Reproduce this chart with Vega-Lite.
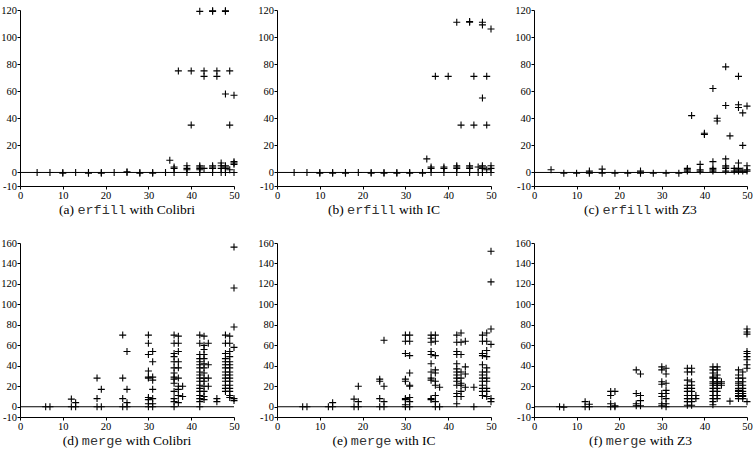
{
"$schema": "https://vega.github.io/schema/vega-lite/v6.json",
"background": "white",
"padding": {"left": 0, "top": 4, "right": 0, "bottom": 0},
"config": {
  "font": "Liberation Serif",
  "view": {"stroke": null},
  "axis": {"grid": false, "title": null, "domainColor": "black", "tickColor": "black", "labelColor": "black", "labelFont": "Liberation Serif", "labelFontSize": 10.5, "tickSize": 3, "labelPadding": 1, "domainWidth": 1, "tickWidth": 1, "labelOverlap": false, "labelSeparation": -14, "labelFlush": false, "labelBound": false, "tickCount": 30, "labelExpr": "'' + datum.value"},
  "axisY": {"labelPadding": 0.5},
  "scale": {"nice": false, "zero": false},
  "text": {"font": "Liberation Serif", "fontSize": 13.5, "color": "black", "baseline": "middle"},
  "point": {"shape": "M-1,0H1M0,-1V1", "filled": false, "stroke": "black", "strokeWidth": 1.1, "size": 49, "opacity": 1}
},
"datasets": {
"one": [{"k": 1}],
"a": [{"x":4,"y":0},{"x":7,"y":0},{"x":10,"y":0},{"x":10,"y":-0.5},{"x":13,"y":0},{"x":16,"y":0},{"x":16,"y":-0.5},{"x":19,"y":0},{"x":19,"y":-0.5},{"x":22,"y":0},{"x":25,"y":0},{"x":25,"y":0.5},{"x":28,"y":0},{"x":28,"y":-0.5},{"x":31,"y":0},{"x":31,"y":-0.5},{"x":34,"y":0},{"x":35,"y":9},{"x":36,"y":4},{"x":36,"y":3},{"x":36,"y":0},{"x":37,"y":75},{"x":39,"y":5},{"x":39,"y":3},{"x":39,"y":2},{"x":39,"y":0},{"x":40,"y":75},{"x":40,"y":35},{"x":42,"y":119},{"x":42,"y":5},{"x":42,"y":4},{"x":42,"y":3},{"x":42,"y":2},{"x":42,"y":0},{"x":43,"y":75},{"x":43,"y":71},{"x":43,"y":3},{"x":45,"y":119},{"x":45,"y":119.5},{"x":45,"y":5},{"x":45,"y":4},{"x":45,"y":3},{"x":45,"y":0},{"x":46,"y":75},{"x":46,"y":71},{"x":47,"y":7},{"x":47,"y":5},{"x":47,"y":3},{"x":47,"y":0},{"x":48,"y":119},{"x":48,"y":119.5},{"x":48,"y":58},{"x":48,"y":5},{"x":48,"y":4},{"x":48,"y":3},{"x":48,"y":0},{"x":49,"y":75},{"x":49,"y":35},{"x":49,"y":2},{"x":50,"y":57},{"x":50,"y":8},{"x":50,"y":7},{"x":50,"y":6},{"x":50,"y":0}],
"b": [{"x":4,"y":0},{"x":7,"y":0},{"x":10,"y":0},{"x":10,"y":-0.5},{"x":13,"y":0},{"x":13,"y":-0.5},{"x":16,"y":0},{"x":16,"y":-0.5},{"x":19,"y":0},{"x":22,"y":0},{"x":22,"y":-0.5},{"x":25,"y":0},{"x":25,"y":-0.5},{"x":28,"y":0},{"x":28,"y":-0.5},{"x":31,"y":0},{"x":31,"y":-0.5},{"x":34,"y":0},{"x":34,"y":-0.5},{"x":35,"y":10},{"x":36,"y":4},{"x":36,"y":3},{"x":36,"y":0},{"x":37,"y":71},{"x":39,"y":4},{"x":39,"y":3},{"x":39,"y":0},{"x":40,"y":71},{"x":42,"y":111},{"x":42,"y":5},{"x":42,"y":4},{"x":42,"y":3},{"x":42,"y":0},{"x":43,"y":35},{"x":45,"y":111},{"x":45,"y":111.5},{"x":45,"y":5},{"x":45,"y":4},{"x":45,"y":3},{"x":45,"y":0},{"x":46,"y":71},{"x":46,"y":35},{"x":47,"y":4},{"x":47,"y":0},{"x":48,"y":111},{"x":48,"y":109},{"x":48,"y":55},{"x":48,"y":5},{"x":48,"y":4},{"x":48,"y":3},{"x":48,"y":0},{"x":49,"y":71},{"x":49,"y":35},{"x":49,"y":2},{"x":50,"y":106},{"x":50,"y":5},{"x":50,"y":3},{"x":50,"y":0}],
"c": [{"x":4,"y":2},{"x":7,"y":-0.5},{"x":10,"y":-0.5},{"x":13,"y":1},{"x":13,"y":-0.5},{"x":16,"y":2.5},{"x":16,"y":-0.5},{"x":19,"y":-0.5},{"x":22,"y":-0.5},{"x":25,"y":1},{"x":25,"y":-0.5},{"x":28,"y":-0.5},{"x":31,"y":-0.5},{"x":34,"y":-0.5},{"x":36,"y":3},{"x":36,"y":2},{"x":36,"y":1},{"x":37,"y":42},{"x":39,"y":6},{"x":39,"y":2},{"x":39,"y":1},{"x":40,"y":29},{"x":40,"y":28},{"x":42,"y":62},{"x":42,"y":8},{"x":42,"y":3},{"x":42,"y":2},{"x":42,"y":1},{"x":43,"y":40},{"x":43,"y":38},{"x":45,"y":78},{"x":45,"y":49.5},{"x":45,"y":10},{"x":45,"y":5},{"x":45,"y":4},{"x":45,"y":3},{"x":45,"y":1},{"x":46,"y":27},{"x":47,"y":3},{"x":47,"y":1},{"x":48,"y":71},{"x":48,"y":50},{"x":48,"y":48},{"x":48,"y":7},{"x":48,"y":3},{"x":48,"y":2},{"x":48,"y":1},{"x":49,"y":44},{"x":49,"y":20},{"x":49,"y":1},{"x":50,"y":49},{"x":50,"y":5},{"x":50,"y":2},{"x":50,"y":1}],
"d": [{"x":6,"y":0},{"x":7,"y":0},{"x":12,"y":7.5},{"x":12,"y":0},{"x":13,"y":4},{"x":13,"y":0},{"x":18,"y":28},{"x":18,"y":8},{"x":18,"y":0},{"x":19,"y":17},{"x":19,"y":0},{"x":24,"y":70},{"x":24,"y":28},{"x":24,"y":8},{"x":24,"y":0},{"x":25,"y":54},{"x":25,"y":17},{"x":25,"y":4},{"x":25,"y":0},{"x":30,"y":70},{"x":30,"y":62},{"x":30,"y":51},{"x":30,"y":35},{"x":30,"y":29},{"x":30,"y":28},{"x":30,"y":9},{"x":30,"y":7},{"x":30,"y":3},{"x":30,"y":0},{"x":31,"y":54},{"x":31,"y":44},{"x":31,"y":29},{"x":31,"y":26},{"x":31,"y":17},{"x":31,"y":8},{"x":31,"y":3},{"x":31,"y":0},{"x":36,"y":70},{"x":36,"y":62},{"x":36,"y":52},{"x":36,"y":49},{"x":36,"y":44},{"x":36,"y":38},{"x":36,"y":33},{"x":36,"y":29},{"x":36,"y":27},{"x":36,"y":23},{"x":36,"y":15},{"x":36,"y":8},{"x":36,"y":5},{"x":36,"y":0},{"x":37,"y":69},{"x":37,"y":62},{"x":37,"y":54},{"x":37,"y":44},{"x":37,"y":38},{"x":37,"y":28},{"x":37,"y":20},{"x":37,"y":17},{"x":37,"y":11},{"x":37,"y":4},{"x":38,"y":20},{"x":38,"y":10},{"x":42,"y":70},{"x":42,"y":62},{"x":42,"y":51},{"x":42,"y":47},{"x":42,"y":44},{"x":42,"y":41},{"x":42,"y":38},{"x":42,"y":34},{"x":42,"y":31},{"x":42,"y":28},{"x":42,"y":25},{"x":42,"y":21},{"x":42,"y":18},{"x":42,"y":15},{"x":42,"y":11},{"x":42,"y":8},{"x":42,"y":5},{"x":42,"y":0},{"x":43,"y":69},{"x":43,"y":60},{"x":43,"y":56},{"x":43,"y":51},{"x":43,"y":47},{"x":43,"y":42},{"x":43,"y":38},{"x":43,"y":33},{"x":43,"y":28},{"x":43,"y":25},{"x":43,"y":20},{"x":43,"y":15},{"x":43,"y":10},{"x":43,"y":7},{"x":44,"y":62},{"x":44,"y":41},{"x":44,"y":28},{"x":44,"y":20},{"x":46,"y":8},{"x":46,"y":5},{"x":48,"y":70},{"x":48,"y":62},{"x":48,"y":52},{"x":48,"y":47},{"x":48,"y":44},{"x":48,"y":41},{"x":48,"y":38},{"x":48,"y":34},{"x":48,"y":31},{"x":48,"y":28},{"x":48,"y":25},{"x":48,"y":21},{"x":48,"y":18},{"x":48,"y":15},{"x":49,"y":69},{"x":49,"y":62},{"x":49,"y":54},{"x":49,"y":49},{"x":49,"y":44},{"x":49,"y":41},{"x":49,"y":38},{"x":49,"y":34},{"x":49,"y":31},{"x":49,"y":28},{"x":49,"y":25},{"x":49,"y":21},{"x":49,"y":18},{"x":49,"y":15},{"x":49,"y":11},{"x":49,"y":9},{"x":50,"y":156},{"x":50,"y":116},{"x":50,"y":78},{"x":50,"y":58},{"x":50,"y":8},{"x":50,"y":6}],
"e": [{"x":6,"y":0},{"x":7,"y":0},{"x":12,"y":0},{"x":13,"y":4},{"x":13,"y":0},{"x":18,"y":7.5},{"x":18,"y":0},{"x":19,"y":20},{"x":19,"y":5},{"x":19,"y":0},{"x":24,"y":27},{"x":24,"y":25},{"x":24,"y":8},{"x":24,"y":0},{"x":25,"y":65},{"x":25,"y":20},{"x":25,"y":5},{"x":25,"y":0},{"x":30,"y":70},{"x":30,"y":64},{"x":30,"y":52},{"x":30,"y":27},{"x":30,"y":25},{"x":30,"y":8},{"x":30,"y":7},{"x":30,"y":2},{"x":30,"y":0},{"x":31,"y":70},{"x":31,"y":64},{"x":31,"y":50},{"x":31,"y":33},{"x":31,"y":21},{"x":31,"y":20},{"x":31,"y":9},{"x":31,"y":5},{"x":31,"y":0},{"x":36,"y":70},{"x":36,"y":67},{"x":36,"y":63},{"x":36,"y":54},{"x":36,"y":51},{"x":36,"y":42},{"x":36,"y":34},{"x":36,"y":28},{"x":36,"y":26},{"x":36,"y":8},{"x":36,"y":7},{"x":37,"y":70},{"x":37,"y":64},{"x":37,"y":50},{"x":37,"y":36},{"x":37,"y":33},{"x":37,"y":25},{"x":37,"y":21},{"x":37,"y":11},{"x":37,"y":5},{"x":37,"y":0},{"x":38,"y":19},{"x":38,"y":0},{"x":42,"y":70},{"x":42,"y":63},{"x":42,"y":54},{"x":42,"y":51},{"x":42,"y":42},{"x":42,"y":37},{"x":42,"y":34},{"x":42,"y":31},{"x":42,"y":28},{"x":42,"y":25},{"x":42,"y":21},{"x":42,"y":13},{"x":42,"y":10},{"x":42,"y":3},{"x":43,"y":72},{"x":43,"y":63},{"x":43,"y":51},{"x":43,"y":34},{"x":43,"y":28},{"x":43,"y":23},{"x":43,"y":21},{"x":43,"y":15},{"x":43,"y":10},{"x":44,"y":64},{"x":44,"y":39},{"x":44,"y":32},{"x":44,"y":19},{"x":46,"y":19},{"x":46,"y":0},{"x":48,"y":70},{"x":48,"y":64},{"x":48,"y":52},{"x":48,"y":50},{"x":48,"y":41},{"x":48,"y":34},{"x":48,"y":31},{"x":48,"y":28},{"x":48,"y":25},{"x":48,"y":21},{"x":48,"y":18},{"x":48,"y":15},{"x":48,"y":11},{"x":49,"y":72},{"x":49,"y":64},{"x":49,"y":55},{"x":49,"y":49},{"x":49,"y":38},{"x":49,"y":34},{"x":49,"y":28},{"x":49,"y":25},{"x":49,"y":18},{"x":49,"y":15},{"x":49,"y":10},{"x":50,"y":152},{"x":50,"y":122},{"x":50,"y":76},{"x":50,"y":61},{"x":50,"y":8},{"x":50,"y":5}],
"f": [{"x":6,"y":0},{"x":7,"y":-0.5},{"x":12,"y":5},{"x":12,"y":0},{"x":13,"y":2.5},{"x":13,"y":0},{"x":18,"y":15},{"x":18,"y":11},{"x":18,"y":3},{"x":18,"y":0},{"x":19,"y":15},{"x":19,"y":1},{"x":19,"y":0},{"x":24,"y":36},{"x":24,"y":13},{"x":24,"y":3},{"x":24,"y":1},{"x":25,"y":32},{"x":25,"y":11},{"x":25,"y":6},{"x":25,"y":1},{"x":30,"y":39},{"x":30,"y":36},{"x":30,"y":24.5},{"x":30,"y":22},{"x":30,"y":13},{"x":30,"y":10},{"x":30,"y":3},{"x":30,"y":1},{"x":31,"y":37.6},{"x":31,"y":32},{"x":31,"y":23},{"x":31,"y":16},{"x":31,"y":13},{"x":31,"y":8},{"x":31,"y":3},{"x":31,"y":0},{"x":36,"y":37.6},{"x":36,"y":34},{"x":36,"y":26},{"x":36,"y":21},{"x":36,"y":18},{"x":36,"y":15},{"x":36,"y":11},{"x":36,"y":8},{"x":36,"y":5},{"x":36,"y":1.5},{"x":37,"y":37.6},{"x":37,"y":34},{"x":37,"y":24.5},{"x":37,"y":21},{"x":37,"y":18},{"x":37,"y":15},{"x":37,"y":11},{"x":37,"y":8},{"x":37,"y":5},{"x":37,"y":1.5},{"x":38,"y":11},{"x":38,"y":8},{"x":42,"y":39},{"x":42,"y":36},{"x":42,"y":33},{"x":42,"y":29},{"x":42,"y":28},{"x":42,"y":24.5},{"x":42,"y":23},{"x":42,"y":21},{"x":42,"y":18},{"x":42,"y":15},{"x":42,"y":11},{"x":42,"y":8},{"x":42,"y":5},{"x":42,"y":2},{"x":43,"y":39},{"x":43,"y":36},{"x":43,"y":31},{"x":43,"y":28},{"x":43,"y":24.5},{"x":43,"y":23},{"x":43,"y":21},{"x":43,"y":18},{"x":43,"y":15},{"x":43,"y":11},{"x":43,"y":8},{"x":44,"y":24.5},{"x":44,"y":23},{"x":44,"y":21},{"x":46,"y":5.5},{"x":48,"y":36},{"x":48,"y":31},{"x":48,"y":28},{"x":48,"y":24.5},{"x":48,"y":23},{"x":48,"y":21},{"x":48,"y":18},{"x":48,"y":16},{"x":48,"y":15},{"x":48,"y":13},{"x":48,"y":11},{"x":48,"y":10},{"x":48,"y":8},{"x":49,"y":34},{"x":49,"y":28},{"x":49,"y":24.5},{"x":49,"y":21},{"x":49,"y":18},{"x":49,"y":15},{"x":49,"y":13},{"x":49,"y":11},{"x":49,"y":10},{"x":49,"y":8},{"x":50,"y":76},{"x":50,"y":73},{"x":50,"y":71},{"x":50,"y":54},{"x":50,"y":52},{"x":50,"y":49},{"x":50,"y":46},{"x":50,"y":41},{"x":50,"y":37.6},{"x":50,"y":5}]
},
"bounds": "flush",
"columns": 3,
"spacing": {"row": 57, "column": 43},
"concat": [
 {"width": 214, "height": 176, "layer": [
  {"data": {"name": "a"}, "mark": "point", "encoding": {"x": {"field": "x", "type": "quantitative", "scale": {"domain": [0, 50]}, "axis": {"values": [0,10,20,30,40,50]}}, "y": {"field": "y", "type": "quantitative", "scale": {"domain": [-10, 120]}, "axis": {"values": [-10,0,20,40,60,80,100,120]}}}},
  {"data": {"name": "one"}, "mark": {"type": "rule", "color": "black", "strokeWidth": 1}, "encoding": {"y": {"datum": 0, "type": "quantitative", "scale": {"domain": [-10, 120]}}}},
  {"data": {"name": "one"}, "mark": {"type": "text", "align": "right", "dx": -53.0}, "encoding": {"x": {"datum": 25, "type": "quantitative", "scale": {"domain": [0, 50]}}, "y": {"datum": -27.7, "type": "quantitative", "scale": {"domain": [-10, 120]}}, "text": {"value": "(a)"}}},
  {"data": {"name": "one"}, "mark": {"type": "text", "align": "center", "dx": -25.3, "font": "Liberation Mono", "color": "#333"}, "encoding": {"x": {"datum": 25, "type": "quantitative", "scale": {"domain": [0, 50]}}, "y": {"datum": -27.7, "type": "quantitative", "scale": {"domain": [-10, 120]}}, "text": {"value": "erfill"}}},
  {"data": {"name": "one"}, "mark": {"type": "text", "align": "left", "dx": 2.4}, "encoding": {"x": {"datum": 25, "type": "quantitative", "scale": {"domain": [0, 50]}}, "y": {"datum": -27.7, "type": "quantitative", "scale": {"domain": [-10, 120]}}, "text": {"value": "with Colibri"}}}
 ]},
 {"width": 214, "height": 176, "layer": [
  {"data": {"name": "b"}, "mark": "point", "encoding": {"x": {"field": "x", "type": "quantitative", "scale": {"domain": [0, 50]}, "axis": {"values": [0,10,20,30,40,50]}}, "y": {"field": "y", "type": "quantitative", "scale": {"domain": [-10, 120]}, "axis": {"values": [-10,0,20,40,60,80,100,120]}}}},
  {"data": {"name": "one"}, "mark": {"type": "rule", "color": "black", "strokeWidth": 1}, "encoding": {"y": {"datum": 0, "type": "quantitative", "scale": {"domain": [-10, 120]}}}},
  {"data": {"name": "one"}, "mark": {"type": "text", "align": "right", "dx": -40.3}, "encoding": {"x": {"datum": 25, "type": "quantitative", "scale": {"domain": [0, 50]}}, "y": {"datum": -27.7, "type": "quantitative", "scale": {"domain": [-10, 120]}}, "text": {"value": "(b)"}}},
  {"data": {"name": "one"}, "mark": {"type": "text", "align": "center", "dx": -12.6, "font": "Liberation Mono", "color": "#333"}, "encoding": {"x": {"datum": 25, "type": "quantitative", "scale": {"domain": [0, 50]}}, "y": {"datum": -27.7, "type": "quantitative", "scale": {"domain": [-10, 120]}}, "text": {"value": "erfill"}}},
  {"data": {"name": "one"}, "mark": {"type": "text", "align": "left", "dx": 15.1}, "encoding": {"x": {"datum": 25, "type": "quantitative", "scale": {"domain": [0, 50]}}, "y": {"datum": -27.7, "type": "quantitative", "scale": {"domain": [-10, 120]}}, "text": {"value": "with IC"}}}
 ]},
 {"width": 213, "height": 176, "layer": [
  {"data": {"name": "c"}, "mark": "point", "encoding": {"x": {"field": "x", "type": "quantitative", "scale": {"domain": [0, 50]}, "axis": {"values": [0,10,20,30,40,50]}}, "y": {"field": "y", "type": "quantitative", "scale": {"domain": [-10, 120]}, "axis": {"values": [-10,0,20,40,60,80,100,120]}}}},
  {"data": {"name": "one"}, "mark": {"type": "rule", "color": "black", "strokeWidth": 1}, "encoding": {"y": {"datum": 0, "type": "quantitative", "scale": {"domain": [-10, 120]}}}},
  {"data": {"name": "one"}, "mark": {"type": "text", "align": "right", "dx": -41.4}, "encoding": {"x": {"datum": 25, "type": "quantitative", "scale": {"domain": [0, 50]}}, "y": {"datum": -27.7, "type": "quantitative", "scale": {"domain": [-10, 120]}}, "text": {"value": "(c)"}}},
  {"data": {"name": "one"}, "mark": {"type": "text", "align": "center", "dx": -13.7, "font": "Liberation Mono", "color": "#333"}, "encoding": {"x": {"datum": 25, "type": "quantitative", "scale": {"domain": [0, 50]}}, "y": {"datum": -27.7, "type": "quantitative", "scale": {"domain": [-10, 120]}}, "text": {"value": "erfill"}}},
  {"data": {"name": "one"}, "mark": {"type": "text", "align": "left", "dx": 14.0}, "encoding": {"x": {"datum": 25, "type": "quantitative", "scale": {"domain": [0, 50]}}, "y": {"datum": -27.7, "type": "quantitative", "scale": {"domain": [-10, 120]}}, "text": {"value": "with Z3"}}}
 ]},
 {"width": 214, "height": 174, "layer": [
  {"data": {"name": "d"}, "mark": "point", "encoding": {"x": {"field": "x", "type": "quantitative", "scale": {"domain": [0, 50]}, "axis": {"values": [0,10,20,30,40,50]}}, "y": {"field": "y", "type": "quantitative", "scale": {"domain": [-10, 160]}, "axis": {"values": [-10,0,20,40,60,80,100,120,140,160]}}}},
  {"data": {"name": "one"}, "mark": {"type": "rule", "color": "black", "strokeWidth": 1}, "encoding": {"y": {"datum": 0, "type": "quantitative", "scale": {"domain": [-10, 160]}}}},
  {"data": {"name": "one"}, "mark": {"type": "text", "align": "right", "dx": -48.5}, "encoding": {"x": {"datum": 25, "type": "quantitative", "scale": {"domain": [0, 50]}}, "y": {"datum": -33.5, "type": "quantitative", "scale": {"domain": [-10, 160]}}, "text": {"value": "(d)"}}},
  {"data": {"name": "one"}, "mark": {"type": "text", "align": "center", "dx": -24.9, "font": "Liberation Mono", "color": "#333"}, "encoding": {"x": {"datum": 25, "type": "quantitative", "scale": {"domain": [0, 50]}}, "y": {"datum": -33.5, "type": "quantitative", "scale": {"domain": [-10, 160]}}, "text": {"value": "merge"}}},
  {"data": {"name": "one"}, "mark": {"type": "text", "align": "left", "dx": -1.3}, "encoding": {"x": {"datum": 25, "type": "quantitative", "scale": {"domain": [0, 50]}}, "y": {"datum": -33.5, "type": "quantitative", "scale": {"domain": [-10, 160]}}, "text": {"value": "with Colibri"}}}
 ]},
 {"width": 214, "height": 174, "layer": [
  {"data": {"name": "e"}, "mark": "point", "encoding": {"x": {"field": "x", "type": "quantitative", "scale": {"domain": [0, 50]}, "axis": {"values": [0,10,20,30,40,50]}}, "y": {"field": "y", "type": "quantitative", "scale": {"domain": [-10, 160]}, "axis": {"values": [-10,0,20,40,60,80,100,120,140,160]}}}},
  {"data": {"name": "one"}, "mark": {"type": "rule", "color": "black", "strokeWidth": 1}, "encoding": {"y": {"datum": 0, "type": "quantitative", "scale": {"domain": [-10, 160]}}}},
  {"data": {"name": "one"}, "mark": {"type": "text", "align": "right", "dx": -36.5}, "encoding": {"x": {"datum": 25, "type": "quantitative", "scale": {"domain": [0, 50]}}, "y": {"datum": -33.5, "type": "quantitative", "scale": {"domain": [-10, 160]}}, "text": {"value": "(e)"}}},
  {"data": {"name": "one"}, "mark": {"type": "text", "align": "center", "dx": -12.9, "font": "Liberation Mono", "color": "#333"}, "encoding": {"x": {"datum": 25, "type": "quantitative", "scale": {"domain": [0, 50]}}, "y": {"datum": -33.5, "type": "quantitative", "scale": {"domain": [-10, 160]}}, "text": {"value": "merge"}}},
  {"data": {"name": "one"}, "mark": {"type": "text", "align": "left", "dx": 10.7}, "encoding": {"x": {"datum": 25, "type": "quantitative", "scale": {"domain": [0, 50]}}, "y": {"datum": -33.5, "type": "quantitative", "scale": {"domain": [-10, 160]}}, "text": {"value": "with IC"}}}
 ]},
 {"width": 213, "height": 174, "layer": [
  {"data": {"name": "f"}, "mark": "point", "encoding": {"x": {"field": "x", "type": "quantitative", "scale": {"domain": [0, 50]}, "axis": {"values": [0,10,20,30,40,50]}}, "y": {"field": "y", "type": "quantitative", "scale": {"domain": [-10, 160]}, "axis": {"values": [-10,0,20,40,60,80,100,120,140,160]}}}},
  {"data": {"name": "one"}, "mark": {"type": "rule", "color": "black", "strokeWidth": 1}, "encoding": {"y": {"datum": 0, "type": "quantitative", "scale": {"domain": [-10, 160]}}}},
  {"data": {"name": "one"}, "mark": {"type": "text", "align": "right", "dx": -38.0}, "encoding": {"x": {"datum": 25, "type": "quantitative", "scale": {"domain": [0, 50]}}, "y": {"datum": -33.5, "type": "quantitative", "scale": {"domain": [-10, 160]}}, "text": {"value": "(f)"}}},
  {"data": {"name": "one"}, "mark": {"type": "text", "align": "center", "dx": -14.4, "font": "Liberation Mono", "color": "#333"}, "encoding": {"x": {"datum": 25, "type": "quantitative", "scale": {"domain": [0, 50]}}, "y": {"datum": -33.5, "type": "quantitative", "scale": {"domain": [-10, 160]}}, "text": {"value": "merge"}}},
  {"data": {"name": "one"}, "mark": {"type": "text", "align": "left", "dx": 9.2}, "encoding": {"x": {"datum": 25, "type": "quantitative", "scale": {"domain": [0, 50]}}, "y": {"datum": -33.5, "type": "quantitative", "scale": {"domain": [-10, 160]}}, "text": {"value": "with Z3"}}}
 ]}
]
}
